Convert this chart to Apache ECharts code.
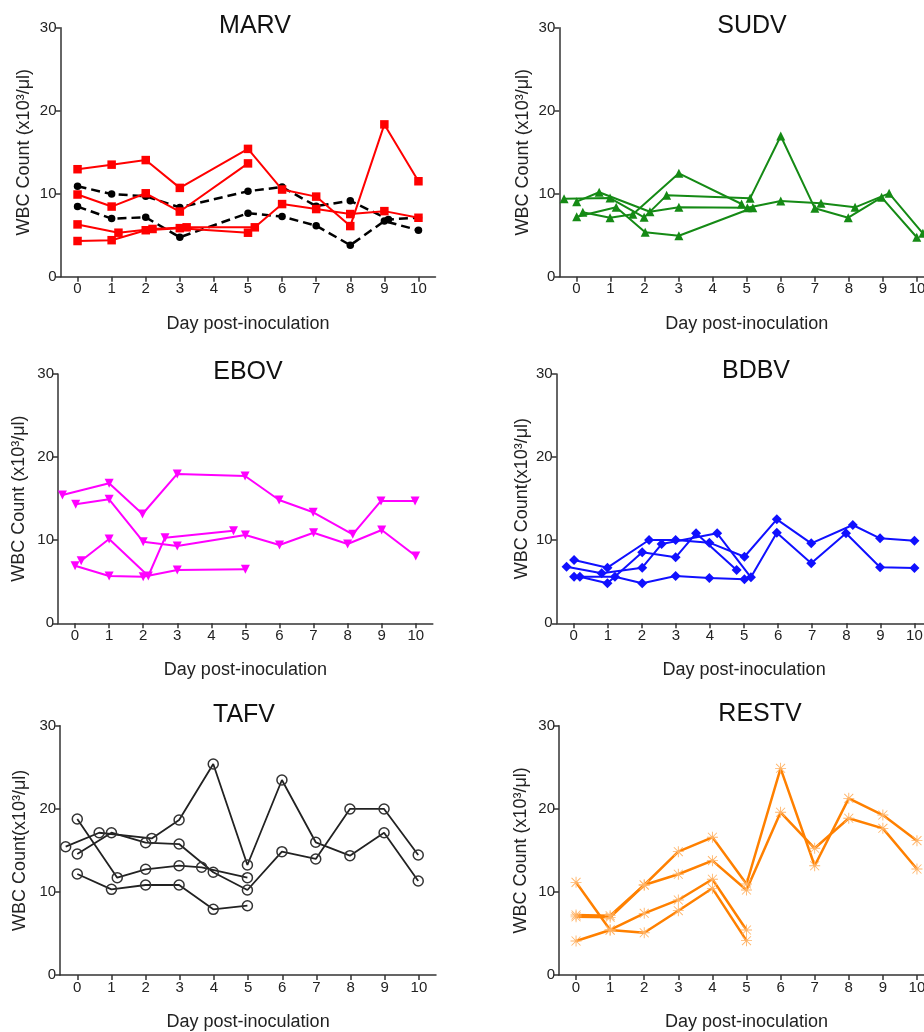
<!DOCTYPE html>
<html>
<head>
<meta charset="utf-8">
<script src="https://cdn.jsdelivr.net/npm/echarts@6/dist/echarts.min.js"></script>
<style>
html,body{margin:0;padding:0;background:#fff;overflow:hidden;}
#c{width:940px;height:1032px;}
</style>
</head>
<body>
<div id="c"></div>
<script>
// ---- tick labels ----
const dayTicks = [0,1,2,3,4,5,6,7,8,9,10];
const wbcTicks = [0,10,20,30];

// ---- MARV ----
const marvRed1 = [[0,12.95],[1,13.5],[2,14.05],[3,10.7],[5,15.4],[6,10.5],[7,9.65],[8,6.1],[9,18.35],[10,11.5]];
const marvRed2 = [[0,9.9],[1,8.45],[2,10.05],[3,7.85],[5,13.65]];
const marvRed3 = [[0,6.3],[1.2,5.3],[2.2,5.75],[3.2,5.95],[5.2,5.95],[6,8.75],[7,8.15],[8,7.55],[9,7.9],[10,7.1]];
const marvRed4 = [[0,4.3],[1,4.4],[2,5.6],[3,5.85],[5,5.3]];
const marvBlack1 = [[0,10.9],[1,9.95],[2,9.7],[3,8.35],[5,10.3],[6,10.8],[7,8.5],[8,9.15],[9.12,6.9],[10,7.1]];
const marvBlack2 = [[0,8.45],[1,7.0],[2,7.15],[3,4.75],[5,7.65],[6,7.25],[7,6.15],[8,3.8],[9,6.7],[10,5.6]];

// ---- SUDV ----
const sudv1 = [[-0.36,9.4],[0.99,9.48],[1.99,7.15],[2.65,9.8],[5.1,9.44],[6,16.95],[7,8.24],[7.98,7.11],[8.96,9.56],[9.99,4.75]];
const sudv2 = [[0.01,9.04],[0.67,10.17],[2.16,7.83],[3.01,8.36],[5.02,8.3],[6,9.12],[7.18,8.84],[8.18,8.36],[9.18,10.04],[10.17,5.23]];
const sudv3 = [[0.19,7.76],[0.99,7.11],[1.66,7.52],[3.01,12.46],[4.85,8.76]];
const sudv4 = [[0.01,7.23],[1.17,8.36],[2.02,5.35],[3.01,4.94],[5.18,8.3]];

// ---- EBOV ----
const ebov1 = [[-0.37,15.44],[1,16.85],[1.98,13.15],[3,17.97],[4.99,17.73],[5.99,14.84],[6.99,13.36],[8.15,10.71],[8.98,14.72],[9.98,14.72]];
const ebov2 = [[0.02,14.32],[1,14.92],[2,9.82],[3,9.3],[5,10.63],[6,9.42],[7,10.9],[8,9.54],[9,11.23],[10,8.1]];
const ebov3 = [[0.18,7.53],[1,10.14],[2.15,5.69],[2.64,10.3],[4.65,11.15]];
const ebov4 = [[0,6.93],[1,5.69],[2,5.6],[3,6.41],[5,6.5]];

// ---- BDBV ----
const bdbv1 = [[0.01,7.62],[0.99,6.69],[2.21,10.02],[2.99,10.02],[3.98,9.7],[5.01,8.01],[5.96,12.51],[6.97,9.62],[8.19,11.83],[8.99,10.23],[10,9.94]];
const bdbv2 = [[-0.21,6.81],[0.82,6.02],[2.01,6.69],[2.58,9.54],[4.21,10.83],[5.2,5.53],[5.96,10.9],[6.97,7.22],[7.99,10.83],[8.99,6.74],[10,6.65]];
const bdbv3 = [[0.18,5.61],[0.99,4.81],[2.01,8.54],[2.99,7.94],[3.59,10.83],[4.78,6.41]];
const bdbv4 = [[0.01,5.61],[1.21,5.61],[2.01,4.81],[2.99,5.69],[3.98,5.45],[5.01,5.29]];

// ---- TAFV ----
const tafv1 = [[-0.34,15.44],[0.64,17.12],[2.18,16.44],[2.98,18.65],[3.98,25.39],[4.98,13.24],[5.99,23.47],[6.98,15.97],[7.98,14.36],[8.98,17.12],[9.98,11.31]];
const tafv2 = [[0,14.56],[1,17.12],[2,15.92],[2.98,15.76],[3.98,12.36],[4.98,10.23],[5.99,14.84],[6.98,13.96],[7.98,19.98],[8.98,19.98],[9.98,14.44]];
const tafv3 = [[0,18.77],[1.17,11.71],[2,12.72],[2.98,13.15],[3.64,12.96],[4.98,11.71]];
const tafv4 = [[0,12.15],[1,10.31],[2,10.83],[2.98,10.83],[3.98,7.9],[4.98,8.34]];

// ---- RESTV ----
const restv1 = [[0,7.22],[1,7.14],[2,10.83],[3,14.84],[4,16.57],[5,10.95],[6,24.87],[7,13.15],[8,21.26],[9,19.25],[10,16.17]];
const restv2 = [[0,7.0],[1,6.94],[2,10.83],[3,12.12],[4,13.76],[5,10.23],[6,19.58],[7,15.25],[8,18.86],[9,17.65],[10,12.76]];
const restv3 = [[0,11.15],[1,5.42],[2,7.42],[3,9.03],[4,11.52],[5,5.42]];
const restv4 = [[0,4.09],[1,5.42],[2,5.09],[3,7.74],[4,10.43],[5,4.13]];

// ---- labels ----
const titles = ['MARV','SUDV','EBOV','BDBV','TAFV','RESTV'];
const yNameSpace = 'WBC Count (x10³/μl)';
const yNameTight = 'WBC Count(x10³/μl)';
const xName = 'Day post-inoculation';

const FONT = '"Liberation Sans", Arial, sans-serif';
const asterisk = 'path://M9.2 0H10.8V20H9.2Z M0 9.2H20V10.8H0Z M2.4 1.3L18.7 17.6L17.6 18.7L1.3 2.4Z M17.6 1.3L18.7 2.4L2.4 18.7L1.3 17.6Z';

const styles = {
  marvRed:   {color:'#ff0000', symbol:'rect', size:8.5, width:2},
  marvBlack: {color:'#000000', symbol:'circle', size:7.5, width:2.5, dash:[9,5]},
  sudv:      {color:'#158a15', symbol:'triangle', size:9, width:2},
  ebov:      {color:'#ff00ff', symbol:'triangle', rotate:180, size:9, width:2},
  bdbv:      {color:'#1010ff', symbol:'diamond', size:10, width:2},
  tafv:      {color:'#222222', symbol:'circle', size:10, width:1.8, hollow:true},
  restv:     {color:'#ff8000', symbol:asterisk, size:11, width:2.5, marker:'#ffb366'}
};

const panels = [
  {title:titles[0], tx:250, ty:9, left:60.5, top:27.7, width:375, height:249, yName:yNameSpace, yGap:27,
   series:[[marvBlack1,'marvBlack'],[marvBlack2,'marvBlack'],[marvRed1,'marvRed'],[marvRed2,'marvRed'],[marvRed3,'marvRed'],[marvRed4,'marvRed']]},
  {title:titles[1], tx:747, ty:9, left:559.3, top:27.7, width:374.8, height:249, yName:yNameSpace, yGap:27,
   series:[[sudv1,'sudv'],[sudv2,'sudv'],[sudv3,'sudv'],[sudv4,'sudv']]},
  {title:titles[2], tx:243, ty:355, left:58, top:374, width:374.8, height:249.3, yName:yNameSpace, yGap:30,
   series:[[ebov1,'ebov'],[ebov2,'ebov'],[ebov3,'ebov'],[ebov4,'ebov']]},
  {title:titles[3], tx:751, ty:354, left:556.7, top:374, width:374.8, height:249.3, yName:yNameTight, yGap:26,
   series:[[bdbv1,'bdbv'],[bdbv2,'bdbv'],[bdbv3,'bdbv'],[bdbv4,'bdbv']]},
  {title:titles[4], tx:239, ty:698, left:60.2, top:725.7, width:375.8, height:249.3, yName:yNameTight, yGap:31,
   series:[[tafv1,'tafv'],[tafv2,'tafv'],[tafv3,'tafv'],[tafv4,'tafv']]},
  {title:titles[5], tx:755, ty:697, left:559, top:725.7, width:375, height:249.3, yName:yNameSpace, yGap:29,
   series:[[restv1,'restv'],[restv2,'restv'],[restv3,'restv'],[restv4,'restv']]}
];

const axisLineStyle = {color:'#333', width:1.5};
const option = {backgroundColor:'#fff', animation:false, title:[], grid:[], xAxis:[], yAxis:[], series:[]};

panels.forEach((p, i) => {
  option.title.push({text:p.title, left:p.tx, top:p.ty, textAlign:'center',
    textStyle:{fontFamily:FONT, fontSize:25, fontWeight:'normal', color:'#111'}});
  option.grid.push({left:p.left, top:p.top, width:p.width, height:p.height, containLabel:false});
  option.xAxis.push({
    type:'value', gridIndex:i, min:-0.5, max:10.5,
    axisLine:{show:true, onZero:false, lineStyle:axisLineStyle},
    axisTick:{show:true, length:5, lineStyle:axisLineStyle, customValues:dayTicks},
    axisLabel:{show:true, margin:5, fontFamily:FONT, fontSize:15, color:'#222', customValues:dayTicks},
    splitLine:{show:false},
    name:xName, nameLocation:'middle', nameGap:38,
    nameTextStyle:{fontFamily:FONT, fontSize:18, color:'#222'}
  });
  option.yAxis.push({
    type:'value', gridIndex:i, min:wbcTicks[0], max:wbcTicks[wbcTicks.length-1], interval:10,
    axisLine:{show:true, onZero:false, lineStyle:axisLineStyle},
    axisTick:{show:true, length:5, lineStyle:axisLineStyle},
    axisLabel:{show:true, margin:4, fontFamily:FONT, fontSize:15, color:'#222'},
    splitLine:{show:false},
    name:p.yName, nameLocation:'middle', nameGap:p.yGap,
    nameTextStyle:{fontFamily:FONT, fontSize:18, color:'#222'}
  });
  p.series.forEach(([data, key]) => {
    const s = styles[key];
    const itemStyle = s.hollow
      ? {color:'rgba(0,0,0,0)', borderColor:'#333', borderWidth:1.5, opacity:1}
      : {color: s.marker || s.color, opacity:1};
    option.series.push({
      type:'line', xAxisIndex:i, yAxisIndex:i, data:data,
      symbol:s.symbol, symbolSize:s.size, symbolRotate:s.rotate || 0, showAllSymbol:true,
      lineStyle:{color:s.color, width:s.width, type: s.dash || 'solid'},
      itemStyle:itemStyle,
      emphasis:{disabled:true},
      animation:false
    });
  });
});

const chart = echarts.init(document.getElementById('c'), null, {renderer:'canvas'});
chart.setOption(option);
</script>
</body>
</html>
